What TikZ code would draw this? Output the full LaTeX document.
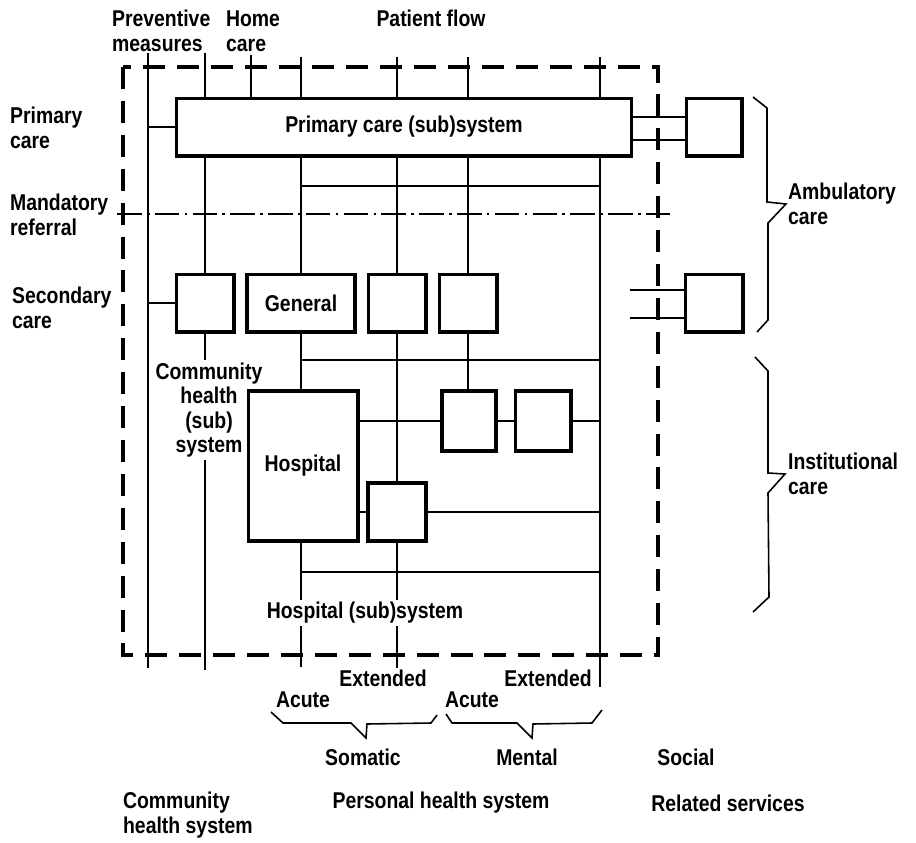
\documentclass[tikz,border=0pt]{standalone}
\usepackage{fontspec}
\setmainfont{Liberation Sans}[FakeStretch=0.85]
\usetikzlibrary{positioning, calc}

\begin{document}
\begin{tikzpicture}[x=0.02cm, y=-0.02cm,
      every node/.style={font=\fontsize{13}{14}\selectfont\bfseries},
      box/.style={draw, line width=2pt, minimum width=1.15cm,
                  minimum height=1.15cm, inner sep=0pt},
      lbl/.style={inner sep=1pt, align=left},
      wire/.style={line width=0.8pt},
      brace/.style={line width=0.9pt},
      border/.style={line width=2.2pt, dash pattern=on 12.5pt off 6.8pt},
      refline/.style={line width=0.7pt, dash pattern=on 14pt off 3pt on 1.5pt off 3pt}]
    \useasboundingbox (0,0) rectangle (916,842);

    % boxes
    \node[box, minimum width=9.11cm]                        (prim) at (404,127) {Primary care (sub)system};
    \node[box, minimum width=1.11cm]                        (amb1) at (714,127) {};
    \node[box]                                              (comm) at (205,303) {};
    \node[box, minimum width=2.17cm]                        (gen)  at (301,303) {General};
    \node[box]                                              (somx) at (397,303) {};
    \node[box]                                              (menA) at (468,303) {};
    \node[box]                                              (amb2) at (714,303) {};
    \node[box, minimum width=2.19cm, minimum height=3.01cm] (hosp) at (303,466) {Hospital};
    \node[box, minimum width=1.09cm, minimum height=1.21cm] (menB) at (469,421) {};
    \node[box, minimum width=1.11cm, minimum height=1.21cm] (menC) at (543,421) {};
    \node[box, minimum width=1.17cm, minimum height=1.17cm] (somB) at (397,512) {};

    % labels
    \node[lbl, anchor=west] (prevent) at (110,31)  {Preventive\\measures};
    \node[lbl, anchor=west] (home)    at (224,31)  {Home\\care};
    \node                   (flow)    at (431,18)  {Patient flow};
    \node[lbl, anchor=west] (primlbl) at (8,128)   {Primary\\care};
    \node[lbl, anchor=west] (mandlbl) at (8,215)   {Mandatory\\referral};
    \node[lbl, anchor=west] (seclbl)  at (10,308)  {Secondary\\care};
    \node[lbl, anchor=west] (amblbl)  at (786,204) {Ambulatory\\care};
    \node[lbl, anchor=west] (instlbl) at (786,474) {Institutional\\care};
    \node[lbl, align=center] (commtxt) at (209,410) {Community\\health\\(sub)\\system};
    \node[lbl]              (hsub)    at (365,613) {Hospital (sub)system};
    \node                   (extS)    at (383,678) {Extended};
    \node                   (acuS)    at (303,700) {Acute};
    \node                   (extM)    at (548,678) {Extended};
    \node                   (acuM)    at (472,700) {Acute};
    \node                   (somat)   at (363,757) {Somatic};
    \node                   (mental)  at (527,757) {Mental};
    \node                   (social)  at (686,757) {Social};
    \node[lbl, anchor=west] (chs)     at (121,815) {Community\\health system};
    \node                   (phs)     at (441,803) {Personal health system};
    \node                   (rel)     at (728,803) {Related services};

    % column ends
    \coordinate (t1) at (148,53);  \coordinate (b1) at (148,668);
    \coordinate (t2) at (205,53);  \coordinate (b2) at (205,670);
    \coordinate (t3) at (251,55);
    \coordinate (t4) at (301,57);  \coordinate (b4) at (301,667);
    \coordinate (t5) at (397,57);  \coordinate (b5) at (397,668);
    \coordinate (t6) at (468,57);
    \coordinate (t7) at (600,57);  \coordinate (b7) at (600,687);
    \coordinate (r1) at (600,186);
    \coordinate (r2) at (600,360);
    \coordinate (r3) at (600,572);
    \coordinate (a1) at (630,290);
    \coordinate (a2) at (630,318);
    \coordinate (m1) at (117,214);
    \coordinate (m2) at (673,214);

    % system border and referral line
    \draw[border] (123,67) rectangle (658,655);
    \draw[refline] (m1) -- (m2);

    % patient flow
    \draw[wire] (t1) -- (b1);
    \draw[wire] (t1 |- prim.west) -- (prim.west);
    \draw[wire] (t1 |- comm.west) -- (comm.west);
    \draw[wire] (t2) -- (t2 |- prim.north);
    \draw[wire] (prim.south -| comm.north) -- (comm.north);
    \draw[wire] (comm.south) -- (comm.south |- commtxt.north);
    \draw[wire] (comm.south |- commtxt.south) -- (b2);
    \draw[wire] (t3) -- (t3 |- prim.north);
    \draw[wire] (t4) -- (t4 |- prim.north);
    \draw[wire] (prim.south -| gen.north) -- (gen.north);
    \draw[wire] (gen.south) -- (gen.south |- hosp.north);
    \draw[wire] (gen.south |- hosp.south) -- (gen.south |- hsub.north);
    \draw[wire] (gen.south |- hsub.south) -- (b4);
    \draw[wire] (t5) -- (t5 |- prim.north);
    \draw[wire] (prim.south -| somx.north) -- (somx.north);
    \draw[wire] (somx.south) -- (somB.north);
    \draw[wire] (somB.south) -- (somB.south |- hsub.north);
    \draw[wire] (somB.south |- hsub.south) -- (b5);
    \draw[wire] (t6) -- (t6 |- prim.north);
    \draw[wire] (prim.south -| menA.north) -- (menA.north);
    \draw[wire] (menA.south) -- (menA.south |- menB.north);
    \draw[wire] (t7) -- (t7 |- prim.north);
    \draw[wire] (prim.south -| t7) -- (b7);
    \draw[wire] (r1 -| gen.north) -- (r1);
    \draw[wire] (r2 -| gen.south) -- (r2);
    \draw[wire] (r3 -| gen.south) -- (r3);
    \draw[wire] (hosp.east |- menB.west) -- (menB.west);
    \draw[wire] (menB.east) -- (menC.west);
    \draw[wire] (menC.east) -- (menC.east -| r1);
    \draw[wire] (hosp.east |- somB.west) -- (somB.west);
    \draw[wire] (somB.east) -- (somB.east -| r1);
    \draw[wire] ([yshift=0.2cm]prim.east) -- ([yshift=0.2cm]amb1.west);
    \draw[wire] ([yshift=-0.26cm]prim.east) -- ([yshift=-0.26cm]amb1.west);
    \draw[wire] (a1) -- (a1 -| amb2.west);
    \draw[wire] (a2) -- (a2 -| amb2.west);

    % braces
    \draw[brace] (753,97) -- (767,108) -- (767,202) -- (786,204) -- (768,223) -- (768,320) -- (757,332);
    \draw[brace] (755,357) -- (768,371) -- (768,473) -- (785,474) -- (768,493) -- (769,597) -- (753,612);
    \draw[brace] (271,712) -- (283,723) -- (351,723) -- (366,738) -- (367,724) -- (431,723) -- (437,715);
    \draw[brace] (446,714) -- (452,723) -- (517,723) -- (532,738) -- (533,724) -- (592,723) -- (602,710);
\end{tikzpicture}
\end{document}
